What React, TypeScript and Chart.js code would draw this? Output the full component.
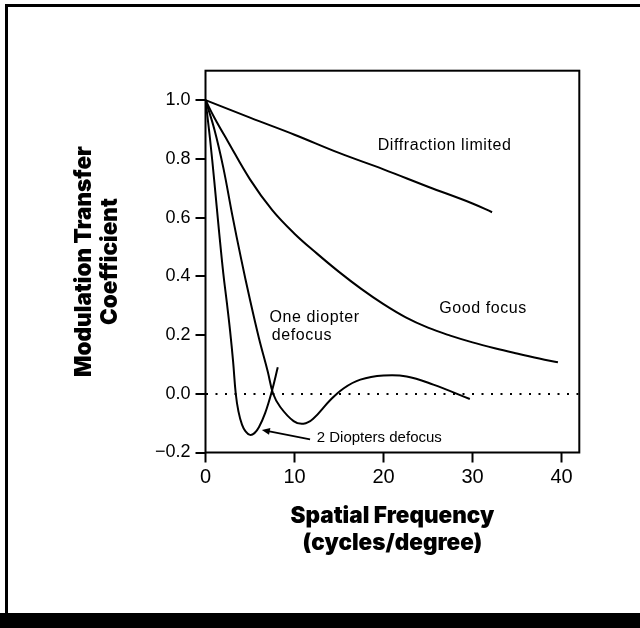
import React, { useEffect, useRef } from "react";
import { Chart, registerables } from "chart.js";

Chart.register(...registerables);

// ---- Axis ranges and ticks ----
const xMin = 0;
const xMax = 42;
const yMin = -0.2;
const yMax = 1.1;
const xTickValues = [0, 10, 20, 30, 40];
const yTickValues = [-0.2, 0, 0.2, 0.4, 0.6, 0.8, 1.0];

// ---- Series (spatial frequency in cycles/degree, modulation transfer) ----
const diffractionX = [0, 5, 10, 15, 20, 25, 30, 32.2];
const diffractionY = [1.0, 0.94, 0.882, 0.82, 0.764, 0.705, 0.648, 0.618];

const goodFocusX = [0, 1, 2.5, 5, 7.5, 10, 12.5, 15, 17.5, 20, 22.5, 25, 27.5, 30, 32.5, 35, 37.5, 39.6];
const goodFocusY = [1.0, 0.94, 0.86, 0.73, 0.625, 0.545, 0.478, 0.415, 0.357, 0.305, 0.26, 0.225, 0.198, 0.175, 0.155, 0.137, 0.12, 0.107];

const oneDiopterX = [0, 1, 2, 3, 4, 5, 6, 7, 7.6, 8.4, 9.9, 11, 12.1, 14, 15.5, 17.4, 20, 22.6, 25.6, 29.7];
const oneDiopterY = [1.0, 0.9, 0.77, 0.61, 0.46, 0.32, 0.19, 0.075, 0.0, -0.045, -0.093, -0.102, -0.085, -0.022, 0.018, 0.048, 0.062, 0.059, 0.031, -0.018];

const twoDioptersX = [0, 0.5, 1, 1.5, 2, 2.4, 2.76, 3.1, 3.4, 3.7, 4.1, 4.5, 5.0, 5.5, 6.0, 6.7, 7.45, 8.12];
const twoDioptersY = [1.0, 0.87, 0.72, 0.56, 0.41, 0.31, 0.215, 0.11, 0.0, -0.06, -0.105, -0.128, -0.14, -0.134, -0.114, -0.066, 0.008, 0.09];

// ---- Annotations (text placed in data coordinates) ----
const labelTexts = ["Diffraction limited", "Good focus", "One diopter", "defocus", "2 Diopters defocus"];
const labelX = [19.35, 26.25, 7.18, 7.45, 12.5];
const labelY = [0.845, 0.29, 0.26, 0.198, -0.15];

// arrow from tail to head
const arrowX = [11.75, 6.33];
const arrowY = [-0.155, -0.123];

const yTitle = ["Modulation Transfer", "Coefficient"];
const xTitle = ["Spatial Frequency", "(cycles/degree)"];

const toPoints = (xs: number[], ys: number[]) => xs.map((x, i) => ({ x, y: ys[i] }));

const TICK_FONT = "'Liberation Sans', Arial, Helvetica, sans-serif";
const TITLE_FONT = "Inter, 'DejaVu Sans', sans-serif";

const framePlugin = {
  id: "framePlugin",
  beforeDraw(chart: any) {
    const ctx = chart.ctx;
    ctx.save();
    ctx.fillStyle = "#ffffff";
    ctx.fillRect(0, 0, chart.width, chart.height);
    ctx.fillStyle = "#000000";
    ctx.fillRect(5, 5, 3, 608);
    ctx.fillRect(5, 4, 635, 3);
    ctx.fillRect(0, 613, 640, 15);
    ctx.restore();
  },
  afterDatasetsDraw(chart: any) {
    const ctx = chart.ctx;
    const { left, top, right, bottom } = chart.chartArea;
    const xs = chart.scales.x;
    const ys = chart.scales.y;
    ctx.save();
    ctx.strokeStyle = "#000";
    ctx.lineWidth = 2;
    ctx.strokeRect(left, top, right - left, bottom - top);

    // labels
    ctx.fillStyle = "#000";
    ctx.textBaseline = "middle";
    ctx.textAlign = "left";
    labelTexts.forEach((t, i) => {
      const big = i < 4;
      ctx.font = (big ? "16px " : "15px ") + TICK_FONT;
      (ctx as any).letterSpacing = big ? "0.6px" : "0px";
      ctx.fillText(t, xs.getPixelForValue(labelX[i]), ys.getPixelForValue(labelY[i]));
    });
    (ctx as any).letterSpacing = "0px";

    // arrow
    const x1 = xs.getPixelForValue(arrowX[0]);
    const y1 = ys.getPixelForValue(arrowY[0]);
    const x2 = xs.getPixelForValue(arrowX[1]);
    const y2 = ys.getPixelForValue(arrowY[1]);
    const ang = Math.atan2(y2 - y1, x2 - x1);
    const hl = 8;
    const hw = 3.5;
    ctx.lineWidth = 1.8;
    ctx.beginPath();
    ctx.moveTo(x1, y1);
    ctx.lineTo(x2 - Math.cos(ang) * hl * 0.8, y2 - Math.sin(ang) * hl * 0.8);
    ctx.stroke();
    ctx.beginPath();
    ctx.moveTo(x2, y2);
    ctx.lineTo(x2 - Math.cos(ang) * hl - Math.sin(ang) * hw, y2 - Math.sin(ang) * hl + Math.cos(ang) * hw);
    ctx.lineTo(x2 - Math.cos(ang) * hl + Math.sin(ang) * hw, y2 - Math.sin(ang) * hl - Math.cos(ang) * hw);
    ctx.closePath();
    ctx.fill();
    ctx.restore();
  },
};

const lineStyle = {
  borderColor: "#000",
  borderWidth: 2,
  pointRadius: 0,
  fill: false,
  tension: 0.4,
};

export default function App() {
  const ref = useRef<HTMLCanvasElement | null>(null);

  useEffect(() => {
    if (!ref.current) return;
    const chart = new Chart(ref.current, {
      type: "line",
      data: {
        datasets: [
          { label: "Diffraction limited", data: toPoints(diffractionX, diffractionY), ...lineStyle },
          { label: "Good focus", data: toPoints(goodFocusX, goodFocusY), ...lineStyle },
          { label: "One diopter defocus", data: toPoints(oneDiopterX, oneDiopterY), ...lineStyle },
          { label: "2 Diopters defocus", data: toPoints(twoDioptersX, twoDioptersY), ...lineStyle },
        ],
      },
      options: {
        animation: false,
        responsive: false,
        devicePixelRatio: 1,
        layout: { padding: { left: 67, top: 70.7, right: 60.7, bottom: 71.75 } },
        plugins: { legend: { display: false }, tooltip: { enabled: false } },
        scales: {
          x: {
            type: "linear",
            min: xMin,
            max: xMax,
            afterBuildTicks: (scale: any) => {
              scale.ticks = xTickValues.map((v) => ({ value: v }));
            },
            afterFit: (scale: any) => {
              scale.height = 628 - 71.75 - 452.5;
            },
            ticks: {
              color: "#000",
              font: { family: TICK_FONT, size: 20 },
              padding: 3,
              maxRotation: 0,
              callback: (v: any) => String(v),
            },
            grid: {
              display: true,
              drawOnChartArea: false,
              drawTicks: true,
              tickLength: 10,
              tickColor: "#000",
              tickWidth: 2,
            },
            border: { display: false },
            title: {
              display: true,
              text: xTitle,
              color: "#000",
              font: { family: TITLE_FONT, size: 22.5, weight: 900, lineHeight: 1.2 },
              padding: { top: 0, bottom: 0 },
            },
          },
          y: {
            type: "linear",
            min: yMin,
            max: yMax,
            afterBuildTicks: (scale: any) => {
              scale.ticks = yTickValues.map((v) => ({ value: v }));
            },
            afterFit: (scale: any) => {
              scale.width = 205.5 - 67;
            },
            ticks: {
              color: "#000",
              font: { family: TICK_FONT, size: 18 },
              padding: 5,
              callback: (v: any) => {
                const n = Number(v);
                const s = Math.abs(n).toFixed(1);
                return n < -1e-9 ? "\u2212" + s : s;
              },
            },
            grid: {
              display: true,
              drawOnChartArea: true,
              drawTicks: true,
              tickLength: 10,
              tickColor: "#000",
              tickWidth: 2,
              tickBorderDash: [],
              lineWidth: 2,
              color: (c: any) => (c.tick && Math.abs(c.tick.value) < 1e-9 ? "#000" : "rgba(0,0,0,0)"),
            },
            border: { display: false, dash: [2, 7.5] },
            title: {
              display: true,
              text: yTitle,
              color: "#000",
              font: { family: TITLE_FONT, size: 22.5, weight: 900, lineHeight: 1.156 },
              padding: { top: 4, bottom: 0 },
            },
          },
        },
      },
      plugins: [framePlugin],
    } as any);
    return () => chart.destroy();
  }, []);

  return (
    <div style={{ position: "absolute", left: 0, top: 0, width: 640, height: 628, background: "#fff" }}>
      <canvas ref={ref} width={640} height={628} style={{ display: "block" }} />
    </div>
  );
}
